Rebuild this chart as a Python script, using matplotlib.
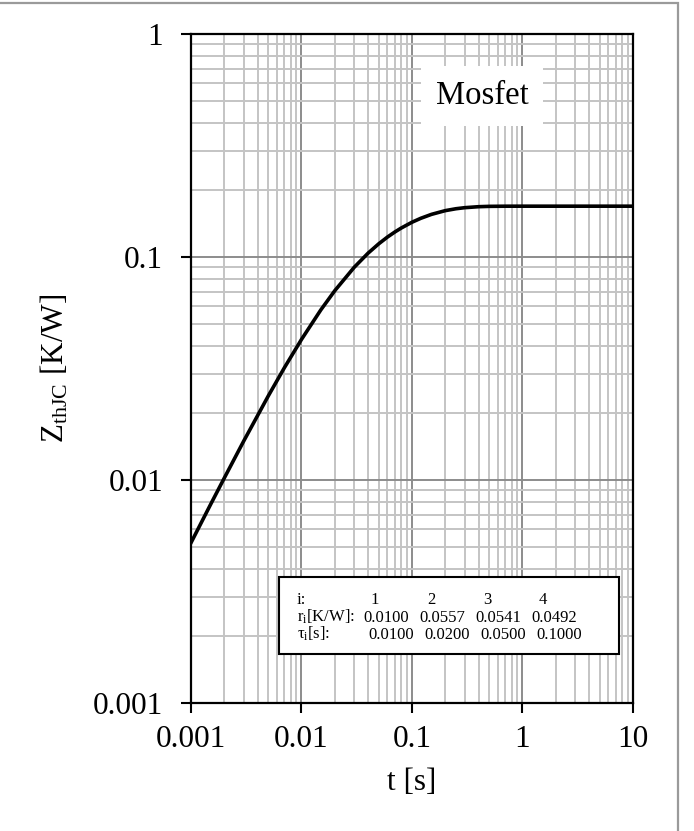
import matplotlib
matplotlib.use("Agg")
import matplotlib.pyplot as plt
from matplotlib.patches import Rectangle
from matplotlib.ticker import FixedLocator, FuncFormatter, LogLocator

plt.rcParams['font.family'] = ['Liberation Serif', 'DejaVu Serif']
plt.rcParams['mathtext.fontset'] = 'custom'
plt.rcParams['mathtext.rm'] = 'Liberation Serif'
plt.rcParams['mathtext.it'] = 'Liberation Serif'

# Thermal impedance curve
t_s = [0.001, 0.0015, 0.002, 0.003, 0.005, 0.007, 0.01, 0.015, 0.02, 0.03,
       0.04, 0.05, 0.06, 0.07, 0.08, 0.1, 0.12, 0.15, 0.2, 0.25, 0.3, 0.4,
       0.5, 0.7, 1, 2, 5, 10]
zth = [0.00523, 0.00775, 0.0102, 0.01495, 0.0238, 0.03188, 0.0427, 0.05803,
       0.0706, 0.08993, 0.1040, 0.1146, 0.1229, 0.1295, 0.1349, 0.1432,
       0.1491, 0.1553, 0.1614, 0.1646, 0.1664, 0.1681, 0.1687, 0.16896,
       0.169, 0.169, 0.169, 0.169]

# Foster network table
idx = ['1', '2', '3', '4']
r_i = ['0.0100', '0.0557', '0.0541', '0.0492']
tau_i = ['0.0100', '0.0200', '0.0500', '0.1000']

x_ticks = [0.001, 0.01, 0.1, 1, 10]
y_ticks = [0.001, 0.01, 0.1, 1]

fig = plt.figure(figsize=(6.94, 8.31), dpi=100)
ax = fig.add_axes([191/694, 1 - 703/831, (633 - 191)/694, (703 - 34)/831])

ax.plot(t_s, zth, color='black', lw=2.6, zorder=3)

ax.set_xscale('log')
ax.set_yscale('log')
ax.set_xlim(0.001, 10)
ax.set_ylim(0.001, 1)

fmt = FuncFormatter(lambda v, p: '%g' % v)
ax.xaxis.set_major_locator(FixedLocator(x_ticks))
ax.yaxis.set_major_locator(FixedLocator(y_ticks))
ax.xaxis.set_major_formatter(fmt)
ax.yaxis.set_major_formatter(fmt)
ax.xaxis.set_minor_locator(LogLocator(base=10, subs=range(2, 10)))
ax.yaxis.set_minor_locator(LogLocator(base=10, subs=range(2, 10)))

ax.grid(True, which='major', color='#8c8c8c', lw=1.4, zorder=1)
ax.grid(True, which='minor', color='#c4c4c4', lw=1.4, zorder=1)
ax.set_axisbelow(True)

ax.tick_params(which='major', direction='out', length=7, width=1.5,
               labelsize=22.5, color='black')
ax.tick_params(axis='y', which='major', pad=13)
ax.tick_params(axis='x', which='major', pad=9)
ax.tick_params(which='minor', length=0)
for sp in ax.spines.values():
    sp.set_color('black')
    sp.set_linewidth(1.6)

ax.set_xlabel('t [s]', fontsize=22.5, labelpad=10)
ax.set_ylabel(r'Z$_{\mathrm{thJC}}$ [K/W]', fontsize=22.5, labelpad=16)

# "Mosfet" label box
ax.text(482, 831 - 96, 'Mosfet', transform=None, fontsize=23.5,
        ha='center', va='center', zorder=4,
        bbox=dict(boxstyle='square,pad=0.45', fc='white', ec='none'))

# Parameter table box
fig.add_artist(Rectangle((279/694, 1 - 654/831), (619 - 279)/694, (654 - 577)/831,
                         transform=fig.transFigure, fc='white', ec='black',
                         lw=1.5, zorder=5))
fs = 12
rows_y = [604, 622, 639]
fig.text(297/694, 1 - rows_y[0]/831, 'i:', fontsize=fs, va='baseline', zorder=6)
fig.text(297/694, 1 - rows_y[1]/831, r'r$_\mathrm{i}$[K/W]:', fontsize=fs,
         va='baseline', zorder=6)
fig.text(297/694, 1 - rows_y[2]/831, r'$\mathrm{\tau}_\mathrm{i}$[s]:', fontsize=fs,
         va='baseline', zorder=6)
col_x = [375, 431, 487, 543]
for k in range(4):
    fig.text(col_x[k]/694, 1 - rows_y[0]/831, idx[k], fontsize=fs,
             ha='center', va='baseline', zorder=6)
    fig.text((col_x[k] + 11)/694, 1 - rows_y[1]/831, r_i[k], fontsize=fs,
             ha='center', va='baseline', zorder=6)
    fig.text((col_x[k] + 16)/694, 1 - rows_y[2]/831, tau_i[k], fontsize=fs,
             ha='center', va='baseline', zorder=6)

# Outer chart-area border (only top and right visible)
fig.add_artist(Rectangle((-0.02, -0.02), 678/694 + 0.02, 1 - 3/831 + 0.02,
                         transform=fig.transFigure, fill=False,
                         ec='#9a9a9a', lw=1.6))

fig.savefig('out.png', dpi=100)
